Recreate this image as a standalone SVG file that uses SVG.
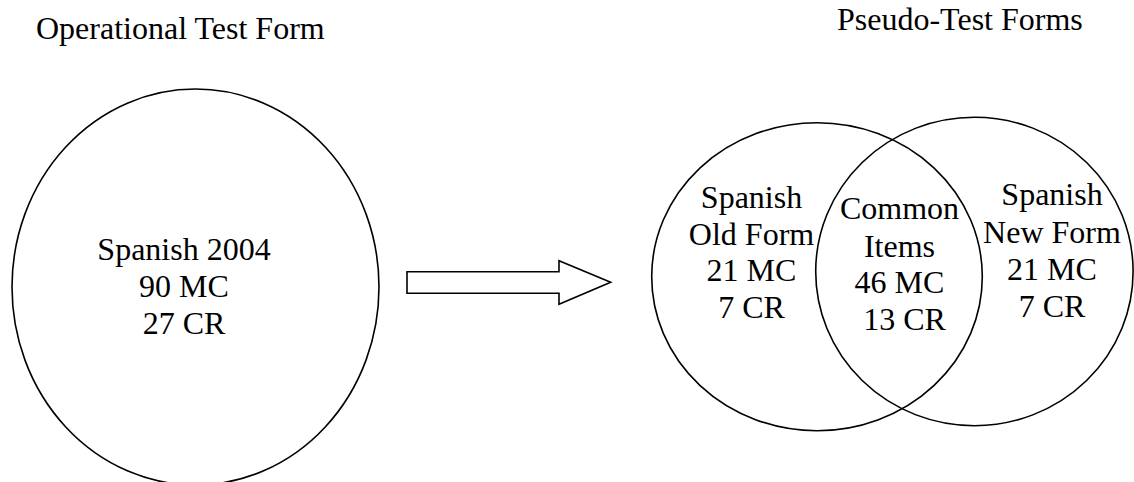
<svg xmlns="http://www.w3.org/2000/svg" width="1134" height="482" viewBox="0 0 1134 482">
<style>
.shape{fill:none;stroke:#000;stroke-width:1.6}
.t{font-family:"Liberation Serif","Times New Roman",serif;font-size:32px;fill:#000;text-anchor:middle}
.title{font-family:"Liberation Serif","Times New Roman",serif;font-size:32px;fill:#000}
</style>
<rect width="1134" height="482" fill="#fff"/>
<text class="title" x="36" y="39">Operational Test Form</text>
<text class="title" x="837" y="30">Pseudo-Test Forms</text>
<g id="operational">
<ellipse class="shape" cx="195.5" cy="287" rx="183.5" ry="198"/>
<text class="t" x="184" y="260">Spanish 2004</text>
<text class="t" x="184" y="297">90 MC</text>
<text class="t" x="184" y="334">27 CR</text>
</g>
<g id="connectors">
<polygon class="shape" points="407,271.7 559,271.7 559,260.7 610.7,282.3 559,304.3 559,293.3 407,293.3"/>
</g>
<g id="old-form">
<ellipse class="shape" cx="817" cy="276.7" rx="165.3" ry="154"/>
<text class="t" x="751.5" y="207.5">Spanish</text>
<text class="t" x="751.5" y="245">Old Form</text>
<text class="t" x="751.5" y="281">21 MC</text>
<text class="t" x="751.5" y="317.5">7 CR</text>
</g>
<g id="new-form">
<ellipse class="shape" cx="974.4" cy="271.5" rx="158.7" ry="154.2"/>
<text class="t" x="1052" y="205">Spanish</text>
<text class="t" x="1052" y="242.5">New Form</text>
<text class="t" x="1052" y="279.5">21 MC</text>
<text class="t" x="1052" y="316.5">7 CR</text>
</g>
<g id="common">
<text class="t" x="899.5" y="219.3">Common</text>
<text class="t" x="899.5" y="256.7">Items</text>
<text class="t" x="899.5" y="293.3">46 MC</text>
<text class="t" x="904.5" y="330">13 CR</text>
</g>
</svg>
